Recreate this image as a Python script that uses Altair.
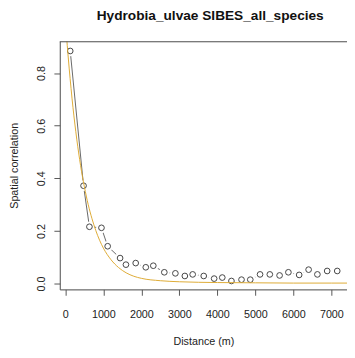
import altair as alt
import pandas as pd

# Observed spatial correlation points
distance = [128, 478, 633, 950, 1113, 1440, 1594, 1851, 2116, 2314, 2604, 2895, 3144, 3350,
            3641, 3915, 4129, 4370, 4635, 4866, 5123, 5380, 5637, 5869, 6152, 6401, 6632, 6889, 7154]
correlation = [0.884, 0.372, 0.216, 0.212, 0.142, 0.097, 0.072, 0.078, 0.062, 0.068, 0.043, 0.039,
               0.029, 0.035, 0.029, 0.019, 0.023, 0.010, 0.015, 0.015, 0.035, 0.035, 0.031, 0.043,
               0.033, 0.053, 0.035, 0.048, 0.048]

# Fitted curve
fit_distance = [0, 50, 100, 150, 200, 300, 400, 500, 600, 700, 800, 900, 1000, 1200, 1400,
                1600, 1800, 2000, 2500, 3000, 3500, 4000, 5000, 6000, 7000, 7500]
fit_value = [1.0, 0.905, 0.819, 0.741, 0.670, 0.549, 0.449, 0.368, 0.301, 0.247, 0.202, 0.165,
             0.135, 0.091, 0.061, 0.041, 0.028, 0.020, 0.011, 0.007, 0.005, 0.004, 0.003, 0.002,
             0.002, 0.002]

x_ticks = [0, 1000, 2000, 3000, 4000, 5000, 6000, 7000]
y_ticks = [0.0, 0.2, 0.4, 0.6, 0.8]

pts = pd.DataFrame({"d": distance, "r": correlation})
fit = pd.DataFrame({"d": fit_distance, "r": fit_value})
one = pd.DataFrame({"k": [0]})

W, H = 294, 254
FONT = "Liberation Sans"

xscale = alt.Scale(domain=[-147, 7411], nice=False, zero=False)
yscale = alt.Scale(domain=[-0.022, 0.921], nice=False, zero=False)

xax = alt.Axis(values=x_ticks, format="d", tickSize=6, labelPadding=14, grid=False,
               domainColor="#555", tickColor="#555", labelColor="#222", labelFontSize=11,
               labelFont=FONT, title="Distance (m)", titleFont=FONT, titleFontSize=11,
               titleFontWeight="normal", titleColor="#222", titlePadding=16)
yax = alt.Axis(values=y_ticks, format=".1f", tickSize=6, labelPadding=10, grid=False,
               labelAngle=270, labelAlign="center", labelBaseline="alphabetic",
               domainColor="#555", tickColor="#555", labelColor="#222", labelFontSize=11,
               labelFont=FONT, title="Spatial correlation", titleFont=FONT, titleFontSize=11,
               titleFontWeight="normal", titleColor="#222", titlePadding=16)

X = alt.X("d:Q", scale=xscale, axis=xax)
Y = alt.Y("r:Q", scale=yscale, axis=yax)

line = alt.Chart(pts).mark_line(color="#666", strokeWidth=1).encode(x=X, y=Y)
mask = alt.Chart(pts).mark_point(shape="circle", filled=True, color="white", opacity=1,
                                 size=120).encode(x=X, y=Y)
circles = alt.Chart(pts).mark_point(shape="circle", filled=False, color="#444", strokeWidth=1,
                                    size=34, opacity=1).encode(x=X, y=Y)
curve = alt.Chart(fit).mark_line(color="#DDAA33", strokeWidth=1, clip=True,
                                 interpolate="monotone").encode(x=X, y=Y)
topline = alt.Chart(one).mark_rule(color="#555", strokeWidth=1).encode(
    x=alt.value(0), x2=alt.value(W), y=alt.value(0.5))

chart = alt.layer(line, mask, circles, curve, topline).properties(
    width=W, height=H,
    title=alt.TitleParams("Hydrobia_ulvae SIBES_all_species", font=FONT, fontSize=14,
                          fontWeight="bold", color="#111", anchor="middle", frame="group",
                          baseline="alphabetic", offset=8, dx=7),
    autosize=alt.AutoSizeParams(type="none"),
    padding={"left": 53, "top": 30, "right": 0, "bottom": 58},
).configure_view(stroke=None).configure(background="white")

chart.save("out.html", embed_options={"renderer": "svg", "actions": False})
